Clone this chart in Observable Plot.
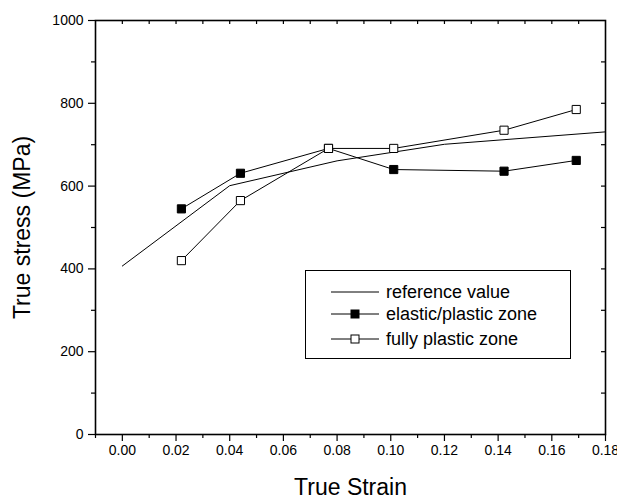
<!DOCTYPE html>
<html>
<head>
<meta charset="utf-8">
<script src="https://cdn.jsdelivr.net/npm/d3@7"></script>
<script src="https://cdn.jsdelivr.net/npm/@observablehq/plot@0.6"></script>
<style>
  body { margin: 0; background: #fff; }
  #wrap { position: relative; width: 617px; height: 501px; font-family: "Liberation Sans", Arial, sans-serif; }
  #legend { position: absolute; left: 305px; top: 270px; width: 264px; height: 87px; border: 1px solid #000; background: #fff; box-sizing: content-box; }
</style>
</head>
<body>
<div id="wrap"></div>
<script>
// Data
const refStrain = [0.0, 0.04, 0.08, 0.12, 0.18];
const refStress = [407, 601, 661, 701, 731];

const epStrain = [0.022, 0.044, 0.0768, 0.1011, 0.1422, 0.1691];
const epStress = [545, 631, 691, 640, 636, 662];

const fpStrain = [0.022, 0.044, 0.0768, 0.1011, 0.1422, 0.1691];
const fpStress = [420, 565, 691, 691, 735, 785];

const xMajor = [0, 0.02, 0.04, 0.06, 0.08, 0.10, 0.12, 0.14, 0.16, 0.18];
const xMinor = [-0.01, 0.01, 0.03, 0.05, 0.07, 0.09, 0.11, 0.13, 0.15, 0.17];
const yMajor = [0, 200, 400, 600, 800, 1000];
const yMinor = [100, 300, 500, 700, 900];

const seriesNames = ["reference value", "elastic/plastic zone", "fully plastic zone"];

const ref = refStrain.map((x, i) => ({x, y: refStress[i]}));
const ep = epStrain.map((x, i) => ({x, y: epStress[i]}));
const fp = fpStrain.map((x, i) => ({x, y: fpStress[i]}));

const W = 617, H = 501;
const mL = 95, mR = 12, mT = 20, mB = 67;
const frameH = H - mT - mB;
const frameW = W - mL - mR;
const inTick = 4;

const allX = xMajor.concat(xMinor);
const allY = yMajor.concat(yMinor);

const chart = Plot.plot({
  width: W,
  height: H,
  marginLeft: mL,
  marginRight: mR,
  marginTop: mT,
  marginBottom: mB,
  style: {fontFamily: "'Liberation Sans', Arial, sans-serif", fontSize: "14px", color: "#000", background: "#fff"},
  x: {domain: [-0.01, 0.18]},
  y: {domain: [0, 1000]},
  marks: [
    // axes
    Plot.axisX({ticks: xMajor, tickFormat: d3.format(".2f"), tickSize: 7, tickPadding: 4, label: null, fontSize: 14, strokeWidth: 1.2}),
    Plot.axisX({ticks: xMinor, tickSize: 4, text: null, label: null, strokeWidth: 1.2}),
    Plot.axisY({ticks: yMajor, tickFormat: d3.format("d"), tickSize: 7, tickPadding: 5, label: null, fontSize: 14, strokeWidth: 1.2}),
    Plot.axisY({ticks: yMinor, tickSize: 4, text: null, label: null, strokeWidth: 1.2}),
    // inward ticks on top and right
    Plot.tickX(allX.filter(v => v > -0.01 && v < 0.18), {x: d => d, insetBottom: frameH - inTick, stroke: "#000", strokeWidth: 1.2}),
    Plot.tickY(allY.filter(v => v > 0 && v < 1000), {y: d => d, insetLeft: frameW - inTick, stroke: "#000", strokeWidth: 1.2}),
    Plot.frame({stroke: "#000", strokeWidth: 1.6}),
    // series
    Plot.line(ref, {x: "x", y: "y", stroke: "#000", strokeWidth: 1}),
    Plot.line(ep, {x: "x", y: "y", stroke: "#000", strokeWidth: 1}),
    Plot.line(fp, {x: "x", y: "y", stroke: "#000", strokeWidth: 1}),
    Plot.dot(ep, {x: "x", y: "y", symbol: "square", r: 4.6, fill: "#000", stroke: "#000", strokeWidth: 1}),
    Plot.dot(fp, {x: "x", y: "y", symbol: "square", r: 4.6, fill: "#fff", stroke: "#000", strokeWidth: 1}),
    // axis titles
    Plot.text(["True Strain"], {frameAnchor: "bottom", dy: 60, fontSize: 23, fill: "#000", textAnchor: "middle"}),
    Plot.text(["True stress (MPa)"], {frameAnchor: "left", dx: -73, rotate: -90, fontSize: 23, fill: "#000", textAnchor: "middle"})
  ]
});

const wrap = document.getElementById("wrap");
wrap.appendChild(chart);

// Legend (inside plot area)
const leg = document.createElement("div");
leg.id = "legend";
const rowsY = [21, 43, 68];
let svg = `<svg width="264" height="87" style="position:absolute;left:0;top:0" font-family="'Liberation Sans', Arial, sans-serif">`;
seriesNames.forEach((name, i) => {
  const y = rowsY[i];
  svg += `<line x1="25" x2="73" y1="${y}" y2="${y}" stroke="#000" stroke-width="1"/>`;
  if (i === 1) svg += `<rect x="45" y="${y-4}" width="8" height="8" fill="#000" stroke="#000"/>`;
  if (i === 2) svg += `<rect x="45" y="${y-4}" width="8" height="8" fill="#fff" stroke="#000"/>`;
  svg += `<text x="80" y="${y}" dy="0.35em" font-size="18" fill="#000">${name}</text>`;
});
svg += `</svg>`;
leg.innerHTML = svg;
wrap.appendChild(leg);
</script>
</body>
</html>
